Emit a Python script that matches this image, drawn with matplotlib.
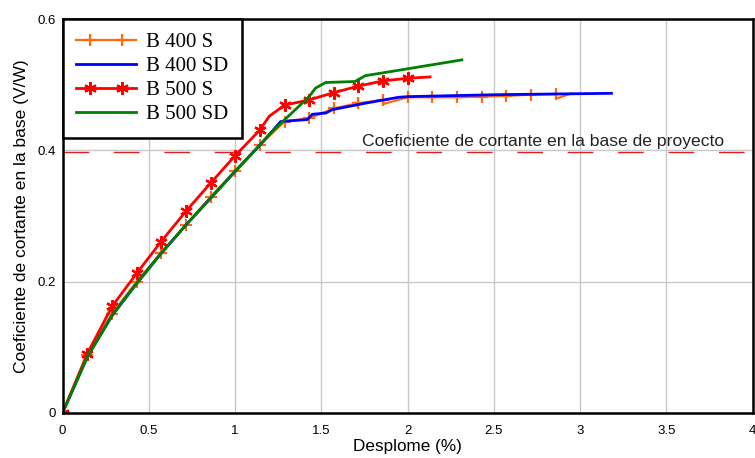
import matplotlib
matplotlib.use("Agg")
import matplotlib.pyplot as plt
from matplotlib import font_manager
from matplotlib.lines import Line2D
from matplotlib.legend_handler import HandlerLine2D

# B 400 S (orange, + markers)
b400s_x = [0, 0.143, 0.286, 0.429, 0.571, 0.714, 0.857, 1.0, 1.143, 1.286, 1.429, 1.571, 1.714,
           1.857, 1.862, 2.0, 2.143, 2.286, 2.429, 2.571, 2.714, 2.857, 2.862, 2.95]
b400s_y = [0, 0.088, 0.151, 0.200, 0.244, 0.286, 0.329, 0.369, 0.408, 0.444, 0.449, 0.464, 0.472,
           0.477, 0.471, 0.481, 0.481, 0.481, 0.482, 0.483, 0.485, 0.486, 0.479, 0.487]
b400s_marks = [0, 1, 2, 3, 4, 5, 6, 7, 8, 9, 10, 11, 12, 13, 15, 16, 17, 18, 19, 20, 21]

# B 400 SD (blue)
b400sd_x = [0, 0.143, 0.286, 0.429, 0.571, 0.714, 0.857, 1.0, 1.143, 1.197, 1.264, 1.418,
            1.447, 1.526, 1.561, 1.755, 1.948, 2.006, 2.526, 3.181]
b400sd_y = [0, 0.085, 0.148, 0.197, 0.243, 0.286, 0.327, 0.368, 0.408, 0.424, 0.444, 0.447,
            0.455, 0.457, 0.462, 0.472, 0.481, 0.482, 0.485, 0.487]

# B 500 S (red, asterisk markers)
b500s_x = [0, 0.143, 0.286, 0.429, 0.571, 0.714, 0.857, 1.0, 1.143, 1.197, 1.286, 1.429,
           1.571, 1.714, 1.857, 2.0, 2.13]
b500s_y = [0, 0.090, 0.162, 0.2125, 0.261, 0.307, 0.350, 0.392, 0.431, 0.452, 0.469, 0.477,
           0.488, 0.498, 0.506, 0.510, 0.512]
b500s_marks = [0, 1, 2, 3, 4, 5, 6, 7, 8, 10, 11, 12, 13, 14, 15]

# B 500 SD (green)
b500sd_x = [0, 0.143, 0.286, 0.429, 0.571, 0.714, 0.857, 1.0, 1.143, 1.197, 1.264, 1.428,
            1.466, 1.524, 1.694, 1.755, 1.851, 2.314]
b500sd_y = [0, 0.085, 0.148, 0.197, 0.243, 0.286, 0.327, 0.368, 0.408, 0.424, 0.441, 0.482,
            0.495, 0.5035, 0.505, 0.514, 0.518, 0.538]

cs_proyecto = 0.398

# narrow font for the note if there is one, else shrink the regular one
installed = {f.name for f in font_manager.fontManager.ttflist}
if "Liberation Sans Narrow" in installed:
    note_font, note_size = "Liberation Sans Narrow", 14.4
else:
    note_font, note_size = "Liberation Sans", 12.6


class LongLineHandler(HandlerLine2D):
    # line over the whole handle, the two markers set inside it
    def create_artists(self, legend, orig_handle, xdescent, ydescent, width, height,
                       fontsize, trans):
        arts = super().create_artists(legend, orig_handle, xdescent, ydescent, width,
                                      height, fontsize, trans)
        line = arts[0]
        xm = list(line.get_xdata())
        y0 = line.get_ydata()[0]
        line.set_data([-xdescent] + xm + [-xdescent + width], [y0] * (len(xm) + 2))
        line.set_markevery(list(range(1, len(xm) + 1)))
        return arts


fig = plt.figure(figsize=(7.55, 4.58), dpi=100)
ax = fig.add_axes([0.083, 0.099, 0.914, 0.859])

ax.plot(b400s_x, b400s_y, color="#FF6A10", lw=1.6, marker="+", ms=9, mew=1.6,
        markevery=b400s_marks, label="B 400 S")
ax.plot(b400sd_x, b400sd_y, color="#0000FF", lw=2.0, label="B 400 SD")
ax.plot(b500s_x, b500s_y, color="#FF0000", lw=2.0, marker=(6, 2, 0), ms=9, mew=1.6,
        markevery=b500s_marks, label="B 500 S")
ax.plot(b500sd_x, b500sd_y, color="#008000", lw=2.0, label="B 500 SD")

ax.axhline(cs_proyecto, color="#E02020", lw=1.0, dashes=(18.5, 17.8), zorder=1)
ax.text(1.734, 0.407, "Coeficiente de cortante en la base de proyecto",
        family=note_font, fontsize=note_size,
        color="#222222", ha="left", va="baseline")

ax.set_xlim(0, 4)
ax.set_ylim(0, 0.6)
ax.set_xticks([0, 0.5, 1, 1.5, 2, 2.5, 3, 3.5, 4])
ax.set_xticklabels(["0", "0.5", "1", "1.5", "2", "2.5", "3", "3.5", "4"])
ax.set_yticks([0, 0.2, 0.4, 0.6])
ax.set_yticklabels(["0", "0.2", "0.4", "0.6"])
ax.grid(True, color="#C8C8C8", lw=1.0, zorder=0)
ax.set_axisbelow(True)
for s in ax.spines.values():
    s.set_linewidth(1.8)
ax.tick_params(length=0, labelsize=9.5)
ax.tick_params(axis="x", pad=9)
ax.tick_params(axis="y", pad=5)
for lab in ax.get_xticklabels() + ax.get_yticklabels():
    lab.set_family("Liberation Sans")

ax.set_xlabel("Desplome (%)", family="Liberation Sans", fontsize=12.3, labelpad=1)
ax.set_ylabel("Coeficiente de cortante en la base (V/W)", family="Liberation Sans",
              fontsize=12.5, labelpad=6)

leg = ax.legend(loc="upper left", bbox_to_anchor=(0, 1), borderaxespad=0,
                prop={"family": "Liberation Serif", "size": 15}, numpoints=2,
                handlelength=2.85, handletextpad=0.5, labelspacing=0.21,
                borderpad=0.65, fancybox=False, framealpha=1, edgecolor="black",
                handler_map={Line2D: LongLineHandler(marker_pad=0.65)})
leg.get_frame().set_linewidth(1.8)

fig.savefig("out.png", dpi=100)
